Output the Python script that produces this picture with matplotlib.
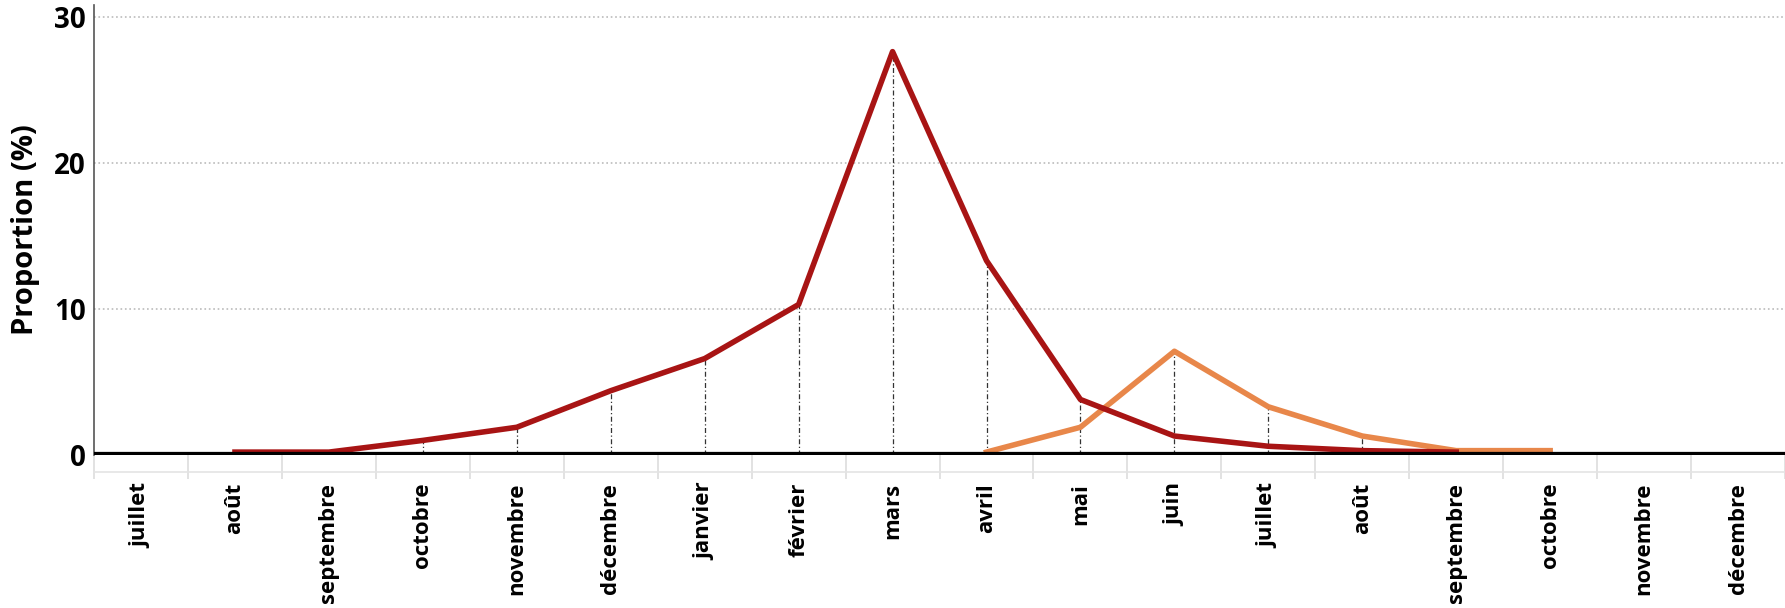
import numpy as np
import matplotlib.pyplot as plt

months = ['juillet', 'août', 'septembre', 'octobre', 'novembre', 'décembre',
          'janvier', 'février', 'mars', 'avril', 'mai', 'juin',
          'juillet', 'août', 'septembre', 'octobre', 'novembre', 'décembre']

# first series (dark red): août -> septembre of the following year
red_x = list(range(1, 15))
red_y = [0.2, 0.2, 1.0, 1.9, 4.4, 6.6, 10.3, 27.6, 13.3, 3.8, 1.3, 0.6, 0.3, 0.2]

# second series (orange): avril -> octobre
orange_x = list(range(9, 16))
orange_y = [0.2, 1.9, 7.1, 3.3, 1.3, 0.3, 0.3]

yticks = [0, 10, 20, 30]

plt.rcParams['font.family'] = ['Open Sans', 'DejaVu Sans']

fig = plt.figure(figsize=(17.85, 6.08), dpi=100)
ax = fig.add_axes([0.0527, 0.2516, 0.9473, 0.7404])

# drop lines from the highest point at each category
tops = {}
for x, y in zip(red_x, red_y):
    tops[x] = max(tops.get(x, 0), y)
for x, y in zip(orange_x, orange_y):
    tops[x] = max(tops.get(x, 0), y)
for x, y in tops.items():
    if y > 0.5:
        ax.plot([x, x], [0, y], color='#333333', lw=0.9, ls=(0, (4, 2, 1, 2)), zorder=2)

ax.plot(red_x, red_y, color='#A81414', lw=4, solid_joinstyle='round', zorder=4)
ax.plot(orange_x, orange_y, color='#E8874A', lw=4, solid_joinstyle='round', zorder=3)

ax.axhline(0, color='black', lw=4.5, zorder=5)

ax.set_xlim(-0.5, 17.5)
ax.set_ylim(0, 30.8)
ax.set_yticks(yticks)
ax.set_yticklabels([str(v) for v in yticks], fontsize=20, fontweight='bold')
ax.yaxis.grid(True, color='#BBBBBB', ls=':', lw=1.2)
ax.set_axisbelow(True)

ax.set_xticks(np.arange(len(months)))
ax.set_xticklabels(months, rotation=90, fontsize=16, fontweight='bold')
ax.set_xticks(np.arange(-0.5, len(months)), minor=True)
ax.tick_params(axis='x', which='major', length=0, pad=20)
ax.tick_params(axis='x', which='minor', length=17, color='#DDDDDD', width=1.2)
ax.tick_params(axis='y', length=0, pad=6)
ax.plot([0, 1], [-0.037, -0.037], transform=ax.transAxes, color='#E4E4E4',
        lw=1.2, clip_on=False)

for s in ['top', 'right', 'bottom']:
    ax.spines[s].set_visible(False)
ax.spines['left'].set_color('#555555')
ax.spines['left'].set_linewidth(1.2)

ax.set_ylabel('Proportion (%)', fontsize=21, fontweight='bold', labelpad=10)

fig.savefig('out.png', dpi=100)
